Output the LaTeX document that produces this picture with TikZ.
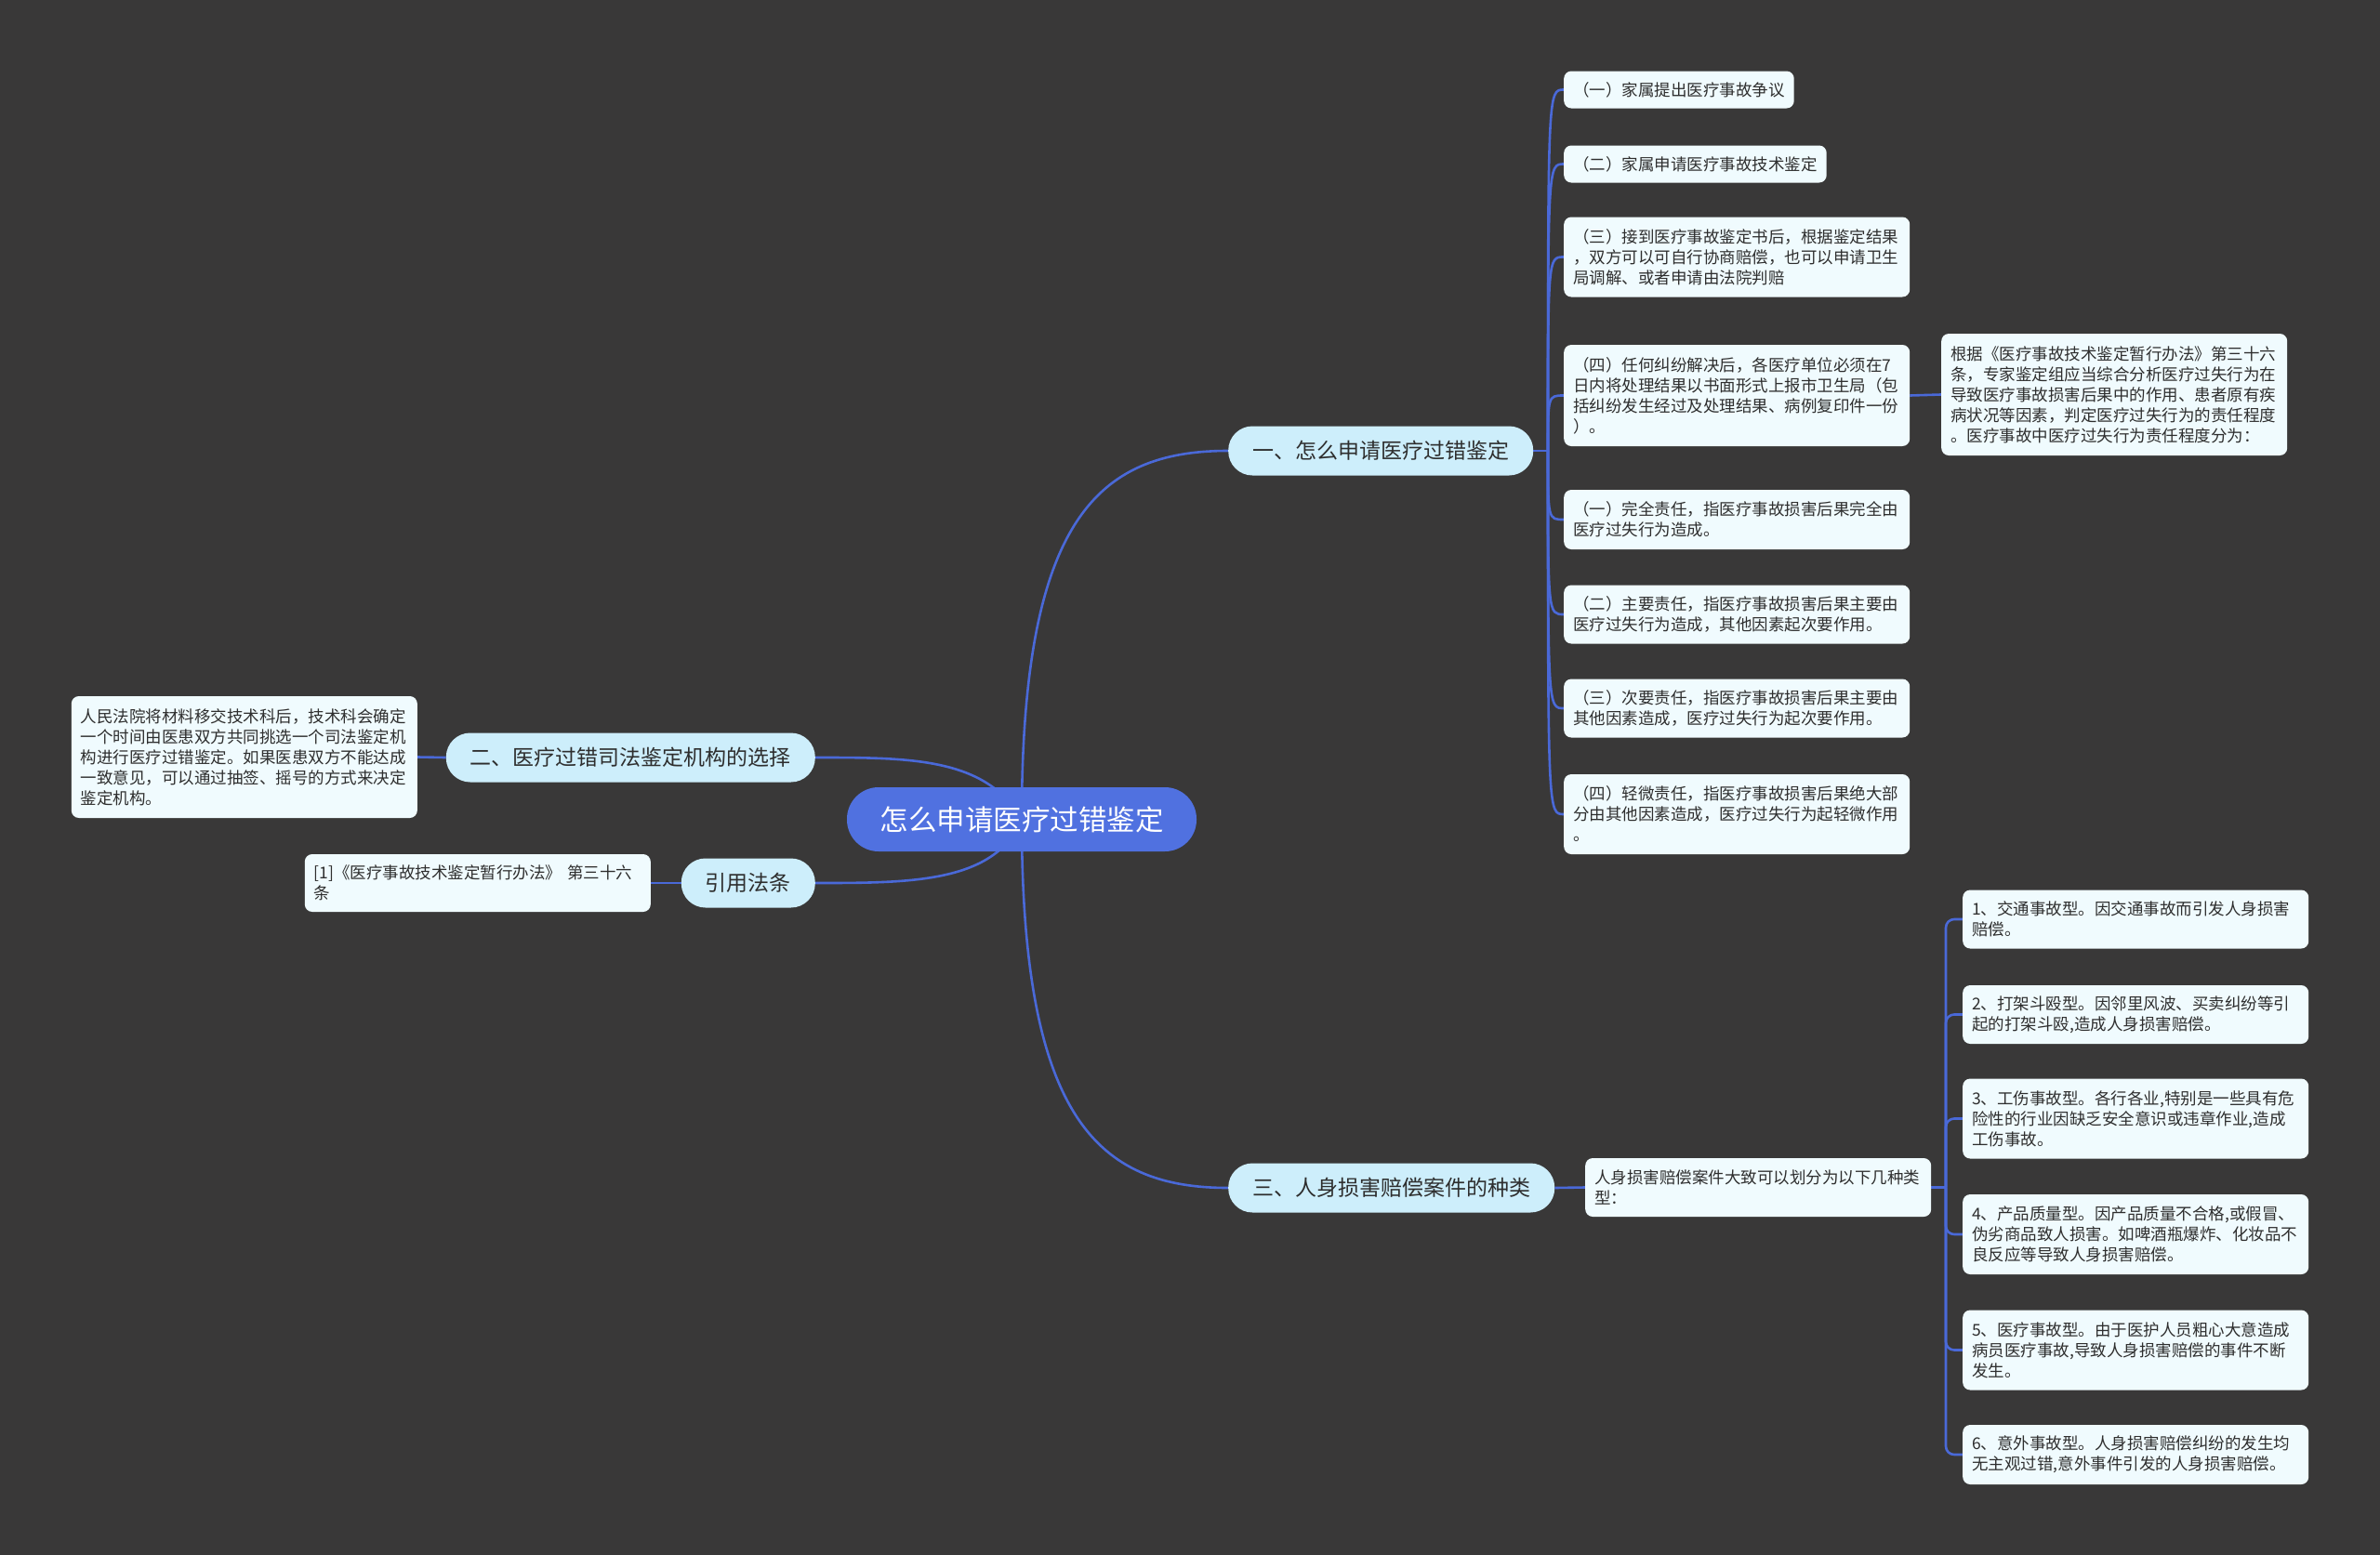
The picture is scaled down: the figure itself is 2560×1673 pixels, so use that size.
\documentclass[tikz,border=0pt]{standalone}
\usepackage{fontspec}
\setmainfont{Noto Sans CJK SC}
\usetikzlibrary{backgrounds}
\definecolor{mindBg}{HTML}{393838}
\definecolor{mindLink}{HTML}{4A69D8}
\definecolor{mindRoot}{HTML}{5071E0}
\definecolor{mindTopic}{HTML}{CDEEFB}
\definecolor{mindLeaf}{HTML}{F0FBFE}
\definecolor{mindInk}{HTML}{2E2E2E}
\begin{document}
\begin{tikzpicture}[x=1pt,y=-1pt,line cap=round,line join=round]
\tikzset{link/.style={draw=mindLink,line width=2.6pt},
  rootbox/.style={fill=mindRoot,text=white,rounded corners=34pt,minimum width=376pt,minimum height=69pt,font=\fontsize{30.5pt}{36pt}\selectfont},
  topic/.style={fill=mindTopic,text=mindInk,rounded corners=26pt,minimum height=53pt,inner xsep=26pt,font=\fontsize{23pt}{28pt}\selectfont},
  leaf/.style={fill=mindLeaf,text=mindInk,rounded corners=8pt,inner xsep=10pt,inner ysep=3pt,align=left,font=\fontsize{17.5pt}{22pt}\selectfont},
  wide/.style={text width=352pt}}
% centre and main topics
\node[rootbox] (root) at (1099,881.5) {怎么申请医疗过错鉴定};
\node[topic,anchor=west] (apply) at (1321,485) {一、怎么申请医疗过错鉴定};
\node[topic,anchor=east] (institute) at (877,815) {二、医疗过错司法鉴定机构的选择};
\node[topic,anchor=east] (cite) at (877,950) {引用法条};
\node[topic,anchor=west] (kinds) at (1321,1278) {三、人身损害赔偿案件的种类};
% first topic
\node[leaf,anchor=west,minimum height=40pt] (applyA) at (1682,96.5) {（一）家属提出医疗事故争议};
\node[leaf,anchor=west,minimum height=40pt] (applyB) at (1682,176.5) {（二）家属申请医疗事故技术鉴定};
\node[leaf,wide,anchor=west,minimum height=86pt] (applyC) at (1682,276.5) {（三）接到医疗事故鉴定书后，根据鉴定结果\\，双方可以可自行协商赔偿，也可以申请卫生\\局调解、或者申请由法院判赔};
\node[leaf,wide,anchor=west,minimum height=109pt] (applyD) at (1682,425.5) {（四）任何纠纷解决后，各医疗单位必须在7\\日内将处理结果以书面形式上报市卫生局（包\\括纠纷发生经过及处理结果、病例复印件一份\\）。};
\node[leaf,wide,anchor=west,minimum height=64pt] (applyE) at (1682,559) {（一）完全责任，指医疗事故损害后果完全由\\医疗过失行为造成。};
\node[leaf,wide,anchor=west,minimum height=63pt] (applyF) at (1682,661) {（二）主要责任，指医疗事故损害后果主要由\\医疗过失行为造成，其他因素起次要作用。};
\node[leaf,wide,anchor=west,minimum height=63pt] (applyG) at (1682,762) {（三）次要责任，指医疗事故损害后果主要由\\其他因素造成，医疗过失行为起次要作用。};
\node[leaf,wide,anchor=west,minimum height=86pt] (applyH) at (1682,876) {（四）轻微责任，指医疗事故损害后果绝大部\\分由其他因素造成，医疗过失行为起轻微作用\\。};
\node[leaf,wide,anchor=west,minimum height=131pt] (applyNote) at (2088,424.5) {根据《医疗事故技术鉴定暂行办法》第三十六\\条，专家鉴定组应当综合分析医疗过失行为在\\导致医疗事故损害后果中的作用、患者原有疾\\病状况等因素，判定医疗过失行为的责任程度\\。医疗事故中医疗过失行为责任程度分为：};
% second topic and citation
\node[leaf,wide,anchor=east,minimum height=131pt] (instituteNote) at (449,814.5) {人民法院将材料移交技术科后，技术科会确定\\一个时间由医患双方共同挑选一个司法鉴定机\\构进行医疗过错鉴定。如果医患双方不能达成\\一致意见，可以通过抽签、摇号的方式来决定\\鉴定机构。};
\node[leaf,wide,anchor=east,minimum height=62pt] (citeNote) at (700,950) {[1]《医疗事故技术鉴定暂行办法》 第三十六\\条};
% third topic
\node[leaf,wide,anchor=west,minimum height=63pt] (kindsNote) at (1705,1277.5) {人身损害赔偿案件大致可以划分为以下几种类\\型：};
\node[leaf,wide,anchor=west,minimum height=63pt] (kindA) at (2111,989) {1、交通事故型。因交通事故而引发人身损害\\赔偿。};
\node[leaf,wide,anchor=west,minimum height=63pt] (kindB) at (2111,1091.5) {2、打架斗殴型。因邻里风波、买卖纠纷等引\\起的打架斗殴,造成人身损害赔偿。};
\node[leaf,wide,anchor=west,minimum height=86pt] (kindC) at (2111,1203.5) {3、工伤事故型。各行各业,特别是一些具有危\\险性的行业因缺乏安全意识或违章作业,造成\\工伤事故。};
\node[leaf,wide,anchor=west,minimum height=86pt] (kindD) at (2111,1328) {4、产品质量型。因产品质量不合格,或假冒、\\伪劣商品致人损害。如啤酒瓶爆炸、化妆品不\\良反应等导致人身损害赔偿。};
\node[leaf,wide,anchor=west,minimum height=86pt] (kindE) at (2111,1452.5) {5、医疗事故型。由于医护人员粗心大意造成\\病员医疗事故,导致人身损害赔偿的事件不断\\发生。};
\node[leaf,wide,anchor=west,minimum height=64pt] (kindF) at (2111,1565) {6、意外事故型。人身损害赔偿纠纷的发生均\\无主观过错,意外事件引发的人身损害赔偿。};
\coordinate (ajoin) at (1665,485);
\coordinate (kjoin) at (2093,1277.5);
\begin{scope}[on background layer]
\path[fill=mindBg] (0,0) rectangle (2560,1673);
\draw[link] (root.center) .. controls (1099,560) and (1180,485) .. (apply.west);
\draw[link] (root.center) .. controls (1099,1202) and (1180,1278) .. (kinds.west);
\draw[link] (root.center) .. controls (1060,815) and (980,815) .. (institute.east);
\draw[link] (root.center) .. controls (1070,950) and (980,950) .. (cite.east);
\draw[link] (institute.west) -- (instituteNote.east);
\draw[link] (cite.west) -- (citeNote.east);
\draw[link] (apply.east) -- (ajoin);
\foreach \k in {A,B,C,D,E,F,G,H}
  \draw[link] (ajoin) .. controls (ajoin |- apply\k.west) .. (apply\k.west);
\draw[link] (applyD.east) -- (applyNote.west);
\draw[link] (kinds.east) -- (kindsNote.west);
\draw[link] (kindsNote.east) -- (kjoin);
\foreach \k in {A,B,C,D,E,F}
  \draw[link,rounded corners=9pt] (kjoin) |- (kind\k.west);
\end{scope}
\end{tikzpicture}
\end{document}
